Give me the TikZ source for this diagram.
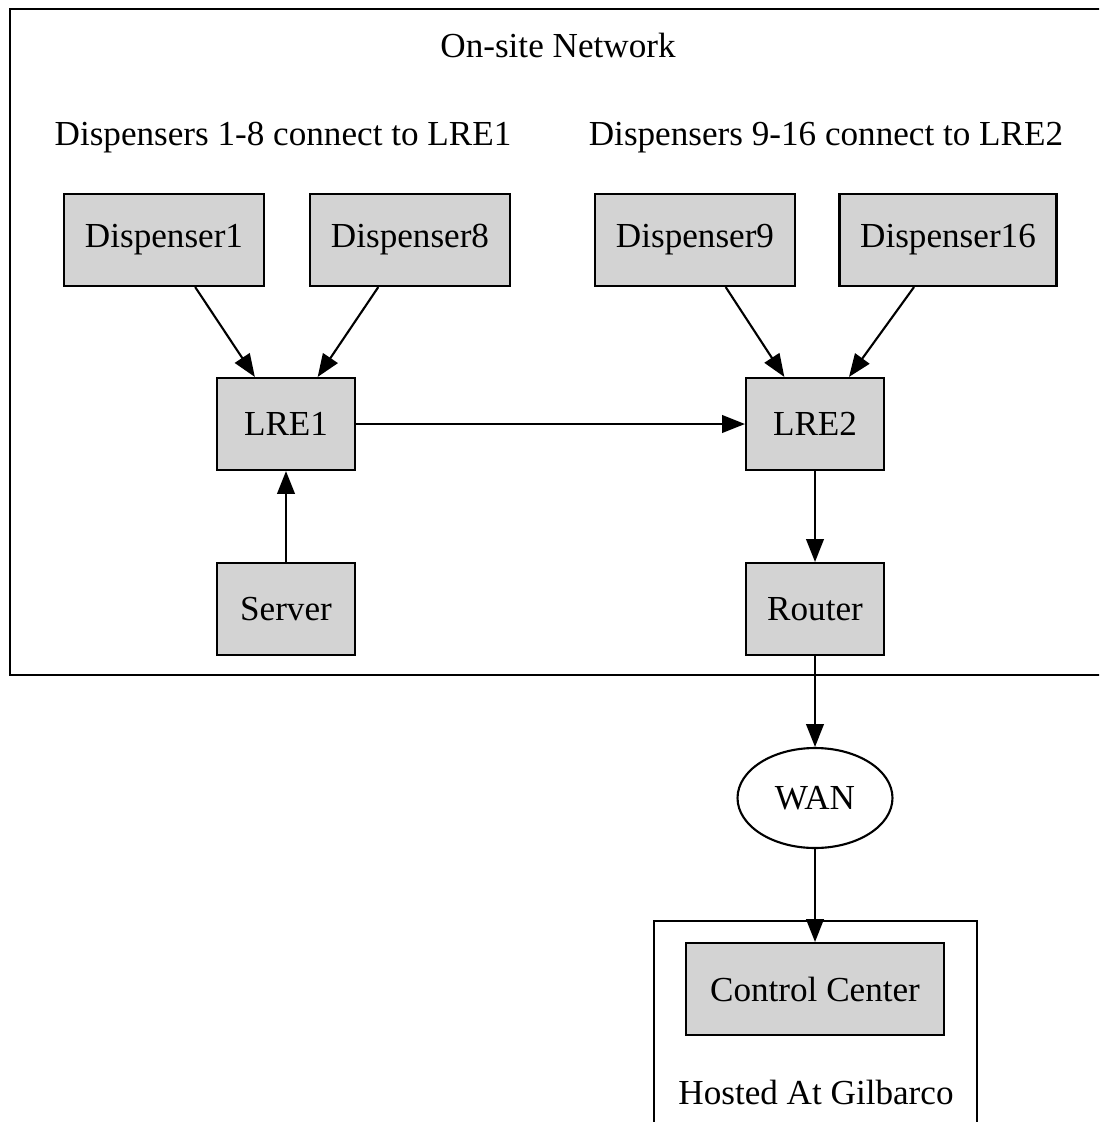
\documentclass[tikz,border=0pt]{standalone}
\usepackage{fontspec}
\setmainfont{Liberation Serif}
\usepackage{xcolor}
\definecolor{NodeGrey}{HTML}{d3d3d3}
\definecolor{LineBlack}{HTML}{000000}
\definecolor{PaperWhite}{HTML}{ffffff}
\usepackage{tikz}
\usetikzlibrary{shapes.geometric, arrows.meta}
\tikzset{
    % Grey boxes for the devices
    device/.style={
        rectangle,
        draw=LineBlack,
        fill=NodeGrey,
        line width=1.2pt,
        minimum width=4cm,
        minimum height=1.84cm,
        inner sep=0pt,
        align=center,
        font=\fontsize{20}{24}\selectfont
    },
    device small/.style={
        device,
        minimum width=2.76cm
    },
    network/.style={
        ellipse,
        draw=LineBlack,
        fill=PaperWhite,
        line width=1.2pt,
        minimum width=3.1cm,
        minimum height=2cm,
        inner sep=0pt,
        font=\fontsize{20}{24}\selectfont
    },
    cluster/.style={
        draw=LineBlack,
        line width=1.2pt
    },
    cluster label/.style={
        inner sep=0pt,
        font=\fontsize{20}{24}\selectfont
    },
    arrow style/.style={
        -{Triangle[length=13pt,width=10pt]},
        line width=1.2pt,
        LineBlack
    }
}
\begin{document}
\begin{tikzpicture}[x=0.02cm, y=-0.02cm]
    \useasboundingbox (0,0) rectangle (1099,1122);
    \clip (0,0) rectangle (1099,1122);

    % clusters
    \draw[cluster] (10,9) rectangle (1130,675);
    \draw[cluster] (654,921) rectangle (977,1150);
    \node[cluster label] (onsite) at (558,45) {On-site Network};
    \node[cluster label] (grouplow) at (283,138) {Dispensers 1-8 connect to LRE1};
    \node[cluster label] (grouphigh) at (826,138) {Dispensers 9-16 connect to LRE2};
    \node[cluster label] (hosted) at (816,1092) {Hosted At Gilbarco};

    % devices
    \node[device] (disp1) at (164,240) {Dispenser1};
    \node[device] (disp8) at (410,240) {Dispenser8};
    \node[device] (disp9) at (695,240) {Dispenser9};
    \node[device, minimum width=4.34cm] (disp16) at (948,240) {Dispenser16};
    \node[device small] (lre1) at (286,424) {LRE1};
    \node[device small] (lre2) at (815,424) {LRE2};
    \node[device small] (server) at (286,609) {Server};
    \node[device small] (router) at (815,609) {Router};
    \node[network] (wan) at (815,798) {WAN};
    \node[device, minimum width=5.16cm] (control) at (815,989) {Control Center};

    \draw[arrow style] (disp1) -- (lre1);
    \draw[arrow style] (disp8) -- (lre1);
    \draw[arrow style] (disp9) -- (lre2);
    \draw[arrow style] (disp16) -- (lre2);
    \draw[arrow style] (lre1) -- (lre2);
    \draw[arrow style] (server) -- (lre1);
    \draw[arrow style] (lre2) -- (router);
    \draw[arrow style] (router) -- (wan);
    \draw[arrow style] (wan) -- (control);
\end{tikzpicture}
\end{document}
